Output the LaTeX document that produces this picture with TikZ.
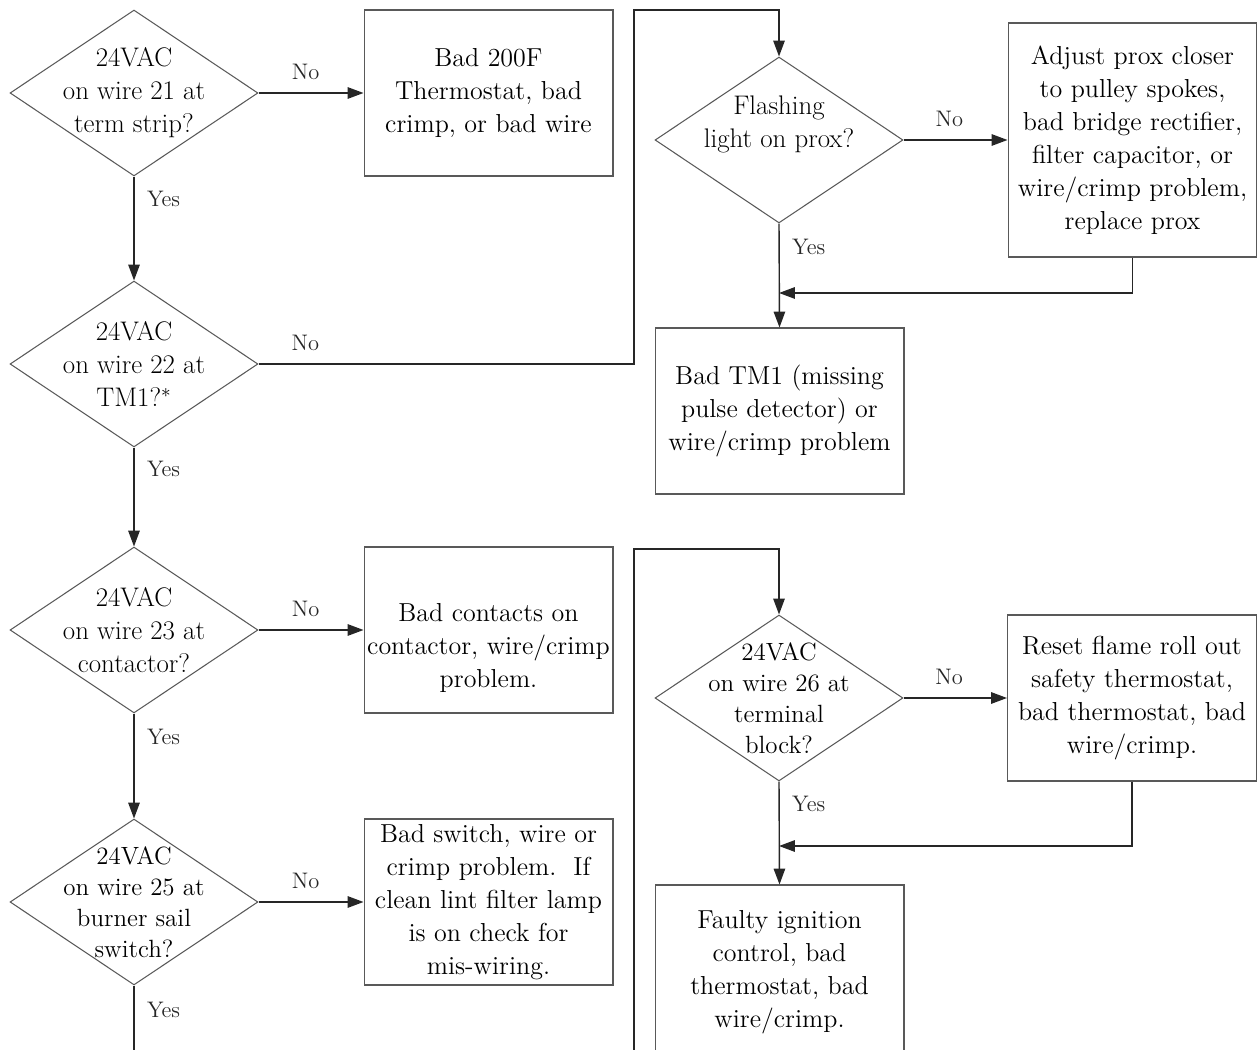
\documentclass[tikz,border=0pt]{standalone}
\usetikzlibrary{arrows.meta,shapes.geometric}

\begin{document}
\begin{tikzpicture}[
  x=0.02cm, y=-0.02cm,
  box/.style={draw=black!65, line width=0.6pt, minimum width=4.98cm, minimum height=3.32cm, inner sep=0pt, align=center, font=\fontsize{14.8}{18.8}\selectfont},
  check/.style={draw=black!65, line width=0.6pt, diamond, minimum width=4.96cm, minimum height=3.32cm, inner sep=0pt},
  ask/.style={align=center, inner sep=0pt, font=\fontsize{15.3}{18.8}\selectfont},
  asksmall/.style={align=center, inner sep=0pt, font=\fontsize{14.2}{17.6}\selectfont},
  tag/.style={font=\fontsize{12.8}{14}\selectfont, inner sep=2pt},
  wire/.style={line width=0.8pt, black!85},
  line/.style={wire, -{Triangle[length=9pt,width=6.5pt]}}
]
\useasboundingbox (0,0) rectangle (1257,1050);

\node[check, label={[ask]center:{24VAC\\on wire 21 at\\term strip?}}] (w21) at (134,93) {};
\node[box] (bad200f) at (488.5,93) {Bad 200F\\Thermostat, bad\\crimp, or bad wire};
\node[check, label={[ask]center:{24VAC\\on wire 22 at\\TM1?$^{*}$}}] (w22) at (134,364) {};
\node[check, label={[ask, yshift=0.32cm]center:{Flashing\\light on prox?}}] (prox) at (779,140) {};
\node[box, minimum height=4.68cm] (adjust) at (1132.5,140) {Adjust prox closer\\to pulley spokes,\\bad bridge rectifier,\\filter capacitor, or\\wire/crimp problem,\\replace prox};
\node[box] (badtm1) at (779.5,411) {Bad TM1 (missing\\pulse detector) or\\wire/crimp problem};

\node[check, label={[ask]center:{24VAC\\on wire 23 at\\contactor?}}] (w23) at (134,630) {};
\node[box, label={[box, draw=none, yshift=-0.36cm]center:{Bad contacts on\\contactor, wire/crimp\\problem.}}] (contacts) at (488.5,630) {};
\node[check, label={[asksmall]center:{24VAC\\on wire 25 at\\burner sail\\switch?}}] (w25) at (134,902) {};
\node[box] (sailsw) at (488.5,902) {Bad switch, wire or\\crimp problem.\ \ If\\clean lint filter lamp\\is on check for\\mis-wiring.};
\node[check, label={[asksmall]center:{24VAC\\on wire 26 at\\terminal\\block?}}] (w26) at (779,698) {};
\node[box] (reset) at (1132,698) {Reset flame roll out\\safety thermostat,\\bad thermostat, bad\\wire/crimp.};
\node[box, minimum height=3.5cm] (ignition) at (779.5,972.5) {Faulty ignition\\control, bad\\thermostat, bad\\wire/crimp.};

\coordinate (up1) at (634,10);
\coordinate (join1) at (779,293);
\coordinate (down1) at (134,1060);
\coordinate (down2) at (634,1060);
\coordinate (up2) at (634,549);
\coordinate (join2) at (779,846);

\draw[line] (w21.east) -- node[tag, above=5pt, pos=0.45] {No} (bad200f.west);
\draw[line] (w21.south) -- node[tag, right=5pt, pos=0.22] {Yes} (w22.north);
\draw[line] (w22.east) -| node[tag, above=5pt, pos=0.0625] {No} (up1) -| (prox.north);
\draw[line] (prox.east) -- node[tag, above=5pt, pos=0.44] {No} (adjust.west);
\draw[line] (prox.south) -- node[tag, right=5pt, pos=0.23] {Yes} (badtm1.north);
\draw[line] (adjust.south) |- (join1);
\draw[line] (w22.south) -- node[tag, right=5pt, pos=0.22] {Yes} (w23.north);

\draw[line] (w23.east) -- node[tag, above=5pt, pos=0.45] {No} (contacts.west);
\draw[line] (w23.south) -- node[tag, right=5pt, pos=0.22] {Yes} (w25.north);
\draw[line] (w25.east) -- node[tag, above=5pt, pos=0.45] {No} (sailsw.west);
\draw[wire] (w25.south) -- node[tag, right=5pt, pos=0.33] {Yes} (down1);
\draw[line] (down2) -- (up2) -| (w26.north);
\draw[line] (w26.east) -- node[tag, above=5pt, pos=0.44] {No} (reset.west);
\draw[line] (w26.south) -- node[tag, right=5pt, pos=0.22] {Yes} (ignition.north);
\draw[line] (reset.south) |- (join2);
\end{tikzpicture}
\end{document}
